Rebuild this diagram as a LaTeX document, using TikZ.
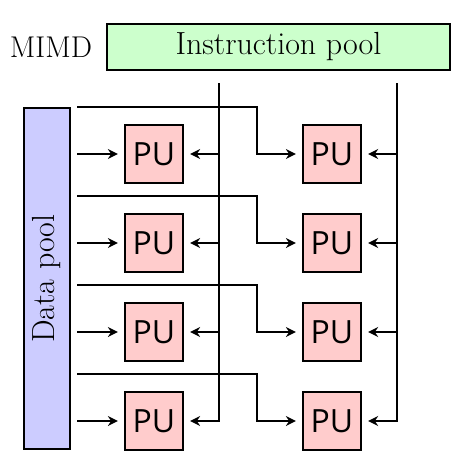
\documentclass[tikz,border=0pt]{standalone}
\usepackage{fontspec}
\newfontfamily\pufont{Open Sans}
\usetikzlibrary{arrows.meta}
\begin{document}
\begin{tikzpicture}[x=1pt,y=-1pt,line width=2.2pt,
  pu/.style={draw,fill=red!20,minimum size=58pt,inner sep=0pt,font=\pufont\fontsize{32}{32}\selectfont},
  pool/.style={draw,inner sep=0pt,minimum height=46pt,font=\fontsize{32}{32}\selectfont},
  >={Stealth[length=10pt,width=10pt]}]
\useasboundingbox (0,0) rectangle (474,474);
\node[pool,fill=green!20,minimum width=343pt] (ip) at (278.5,47) {Instruction pool};
\node[pool,fill=blue!20,minimum width=341pt,rotate=90] (dp) at (47,278.5) {Data pool};
\node[font=\fontsize{30}{30}\selectfont] (mimd) at (51,47) {MIMD};
\coordinate (ltop) at (219,83);
\coordinate (rtop) at (397,83);
\coordinate (din) at (77,0);
\foreach \i/\c in {1/154,2/243,3/332,4/421} {
  \node[pu] (l\i) at (154,\c) {PU};
  \node[pu] (r\i) at (332,\c) {PU};
  % data pool to the two PUs of a row
  \draw[->,shorten >=6pt] (din |- l\i) -- (l\i.west);
  \draw[->,shorten >=6pt] (din |- l\i) ++(0,-47) -| ++(180,47) -- (r\i.west);
}
% instruction pool to the PUs
\draw[->,shorten >=6pt] (ltop) |- (l4.east);
\draw[->,shorten >=6pt] (rtop) |- (r4.east);
\foreach \i in {1,2,3} {
  \draw[->,shorten >=6pt] (ltop |- l\i) -- (l\i.east);
  \draw[->,shorten >=6pt] (rtop |- r\i) -- (r\i.east);
}
\end{tikzpicture}
\end{document}
